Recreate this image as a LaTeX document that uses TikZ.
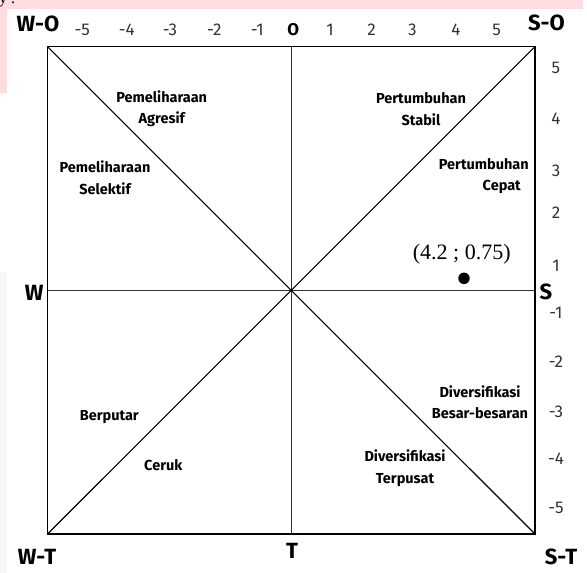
\documentclass[tikz,border=0pt]{standalone}
\usepackage{fontspec}
\setmainfont{Fira Sans}
\newfontfamily\ptfont{Liberation Serif}
\definecolor{pinkbg}{HTML}{FFDCE2}
\tikzset{
  regionlabel/.style={font=\fontsize{14.5}{21.5}\selectfont\bfseries, align=center, inner sep=0pt},
  ticklabel/.style={font=\fontsize{17}{17}\selectfont, text=black!80, inner sep=0pt},
  cornerlabel/.style={font=\fontsize{22}{22}\selectfont\bfseries, inner sep=0pt},
  pointlabel/.style={font=\ptfont\fontsize{22}{22}\selectfont, inner sep=0pt},
  axisline/.style={line width=1.1pt},
}
\begin{document}
\begin{tikzpicture}[x=1pt,y=-1pt]
        \useasboundingbox (0,0) rectangle (587,573);
        % page edge
        \fill[pinkbg] (0,0) rectangle (583,9);
        \fill[pinkbg] (0,9) rectangle (7,93);
        \fill[black!3] (0,272) rectangle (7,573);
        \node[anchor=base west, font=\ptfont\fontsize{16}{16}\selectfont, inner sep=0pt] (cut) at (-1,3) {y .};
        % define point
        \coordinate (WO) at (47.5,46.7);
        \coordinate (SO) at (535,46.7);
        \coordinate (ST) at (535,534);
        \coordinate (WT) at (47.5,534);
        \coordinate (Otop) at (291.3,46.7);
        \coordinate (Tbot) at (291.3,534);
        \coordinate (Wleft) at (47.5,290.7);
        \coordinate (Sright) at (535,290.7);
        % box and axes
        \draw[axisline] (WO) -- (SO) -- (ST) -- (WT) -- cycle;
        \draw[axisline, black!80] (Otop) -- (Tbot);
        \draw[axisline, black!80] (Wleft) -- (Sright);
        \draw[axisline] (WO) -- (ST);
        \draw[axisline] (SO) -- (WT);
        % corners
        \node[cornerlabel] (wo) at (38,24) {W-O};
        \node[cornerlabel] (so) at (546.5,23) {S-O};
        \node[cornerlabel] (wt) at (37,557) {W-T};
        \node[cornerlabel] (st) at (561,557) {S-T};
        \node[cornerlabel] (w) at (34.3,292.7) {W};
        \node[cornerlabel] (s) at (546,292.3) {S};
        \node[cornerlabel] (t) at (292,551) {T};
        \node[ticklabel, font=\fontsize{17}{17}\selectfont\bfseries, text=black] (o) at (293.3,30) {O};
        % scale
        \foreach \n/\px in {-5/82.3, -4/126.7, -3/170, -2/214.3, -1/257.3, 1/330, 2/371.7, 3/412.3, 4/456, 5/496.7}
            \node[ticklabel] (top\n) at (\px,30) {\n};
        \foreach \n/\py in {5/68.3, 4/118.3, 3/171, 2/213, 1/266, -1/313.3, -2/362, -3/411.7, -4/458.3, -5/508}
            \node[ticklabel] (right\n) at (556,\py) {\n};
        % strategies
        \node[regionlabel] (agresif) at (161.7,108.7) {Pemeliharaan\\Agresif};
        \node[regionlabel] (selektif) at (105,177.5) {Pemeliharaan\\Selektif};
        \node[regionlabel] (stabil) at (421,109) {Pertumbuhan\\Stabil};
        \node[regionlabel, align=right, anchor=east] (cepat) at (529,176) {Pertumbuhan\\Cepat\hspace*{8pt}};
        \node[regionlabel] (besar) at (480,402) {Diversifikasi\\Besar-besaran};
        \node[regionlabel] (terpusat) at (405,468) {Diversifikasi\\Terpusat};
        \node[regionlabel] (berputar) at (109.3,417.3) {Berputar};
        \node[regionlabel] (ceruk) at (163.3,465) {Ceruk};
        % position
        \node[circle, fill, inner sep=0pt, minimum size=11.5pt] (pos) at (464,278.3) {};
        \node[pointlabel] (poslabel) at (461.7,254) {(4.2 ; 0.75)};
    \end{tikzpicture}
\end{document}
